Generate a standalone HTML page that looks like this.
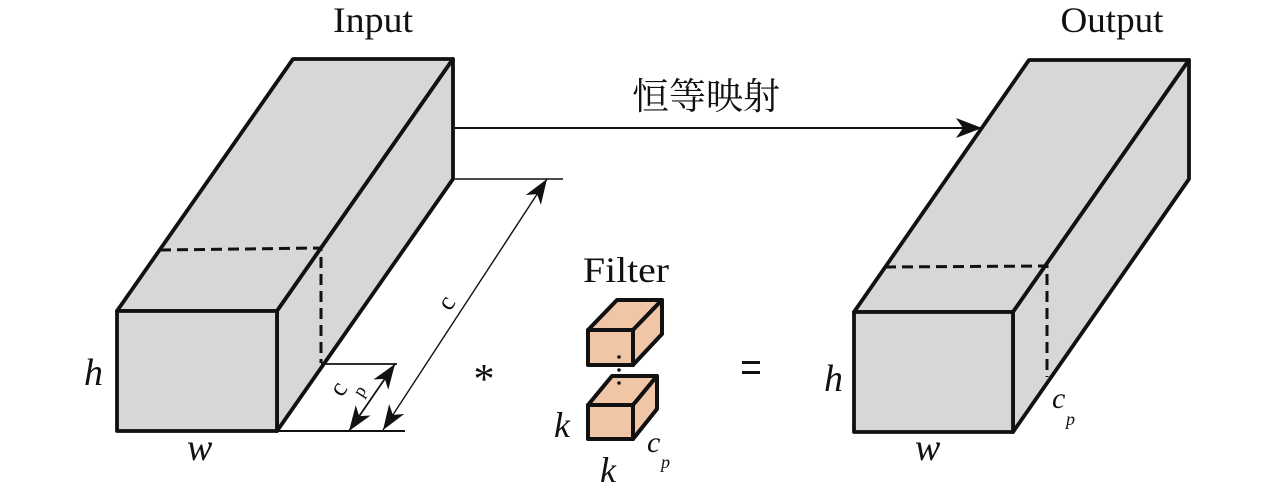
<!DOCTYPE html>
<html><head><meta charset="utf-8"><style>
html,body{margin:0;padding:0;background:#fff;}
svg{display:block;}
.t{font-family:"Liberation Serif",serif;fill:#111;}
.i{font-family:"Liberation Serif",serif;font-style:italic;fill:#111;}
</style></head><body>
<svg width="1276" height="488" viewBox="0 0 1276 488" xmlns="http://www.w3.org/2000/svg">
<defs>
<marker id="ah" markerUnits="userSpaceOnUse" markerWidth="60" markerHeight="60" refX="30" refY="30" orient="auto-start-reverse" overflow="visible">
<path d="M30,30 L5,21 L12,30 L5,39 Z" fill="#111"/>
</marker>
<marker id="ah2" markerUnits="userSpaceOnUse" markerWidth="60" markerHeight="60" refX="30" refY="30" orient="auto" overflow="visible">
<path d="M30,30 L4,20 L11,30 L4,40 Z" fill="#111"/>
</marker>
</defs>

<!-- Input box -->
<g stroke="#111" stroke-width="3.8" stroke-linejoin="round" fill="#d7d7d7">
<polygon points="117,311 293,59 453,59 277,311"/>
<polygon points="277,311 453,59 453,179 277,431"/>
<rect x="117" y="311" width="160" height="120"/>
</g>
<polyline points="160,250 321,248 321,363" fill="none" stroke="#111" stroke-width="3" stroke-dasharray="11,6"/>

<!-- Output box -->
<g stroke="#111" stroke-width="3.8" stroke-linejoin="round" fill="#d7d7d7">
<polygon points="854,312 1029,60 1189,60 1013,312"/>
<polygon points="1013,312 1189,60 1189,179 1013,432"/>
<rect x="854" y="312" width="159" height="120"/>
</g>
<polyline points="885,267 1047,266 1047,377" fill="none" stroke="#111" stroke-width="3" stroke-dasharray="11,6"/>

<!-- identity mapping arrow -->
<line x1="455" y1="128" x2="982" y2="128" stroke="#111" stroke-width="2" marker-end="url(#ah2)"/>
<text x="706" y="109" font-size="37" text-anchor="middle" style="font-family:'Liberation Serif','Noto Serif CJK SC',serif;fill:#111;">恒等映射</text>

<!-- dimension lines -->
<line x1="455" y1="179" x2="563" y2="179" stroke="#111" stroke-width="1.6"/>
<line x1="321" y1="364" x2="397" y2="364" stroke="#111" stroke-width="1.8"/>
<line x1="277" y1="431" x2="405" y2="431" stroke="#111" stroke-width="2"/>
<line x1="383" y1="430" x2="547" y2="179" stroke="#111" stroke-width="1.4" marker-start="url(#ah)" marker-end="url(#ah)"/>
<line x1="349" y1="431" x2="395" y2="364" stroke="#111" stroke-width="1.8" marker-start="url(#ah)" marker-end="url(#ah)"/>

<text class="t" transform="translate(450,312) rotate(-57)" font-size="26">c</text>
<text class="t" transform="translate(342,398) rotate(-57)" font-size="26">c</text>
<text class="t" transform="translate(362,398) rotate(-57)" font-size="18">p</text>

<!-- labels -->
<text class="t" x="373" y="32" font-size="36" text-anchor="middle" textLength="80" lengthAdjust="spacingAndGlyphs">Input</text>
<text class="t" x="1112" y="32" font-size="36" text-anchor="middle" textLength="103" lengthAdjust="spacingAndGlyphs">Output</text>
<text class="t" x="626" y="282" font-size="36" text-anchor="middle" textLength="86" lengthAdjust="spacingAndGlyphs">Filter</text>

<text class="i" x="84" y="385" font-size="38">h</text>
<text class="i" x="187" y="460" font-size="38">w</text>
<text class="i" x="824" y="391" font-size="38">h</text>
<text class="i" x="915" y="460" font-size="38">w</text>
<text class="i" x="1052" y="408" font-size="30">c</text>
<text class="i" x="1066" y="425" font-size="18">p</text>

<text class="t" x="484" y="393" font-size="42" text-anchor="middle">*</text>
<rect x="742" y="361" width="18" height="3" fill="#111"/>
<rect x="742" y="371" width="18" height="3" fill="#111"/>

<!-- Filter cubes -->
<g stroke="#111" stroke-width="4" stroke-linejoin="round" fill="#f1c6a7">
<polygon points="588,330 617,300 662,300 633,330"/>
<polygon points="633,330 662,300 662,334 633,365"/>
<rect x="588" y="330" width="45" height="35"/>
<polygon points="588,405 612,376 657,376 633,405"/>
<polygon points="633,405 657,376 657,409 633,439"/>
<rect x="588" y="405" width="45" height="34"/>
</g>
<circle cx="619" cy="357" r="1.8" fill="#111"/>
<circle cx="619" cy="370" r="1.8" fill="#111"/>
<circle cx="619" cy="383" r="1.8" fill="#111"/>

<text class="i" x="554" y="437" font-size="36">k</text>
<text class="i" x="600" y="482" font-size="36">k</text>
<text class="i" x="647" y="452" font-size="30">c</text>
<text class="i" x="661" y="468" font-size="18">p</text>
</svg>
</body></html>
